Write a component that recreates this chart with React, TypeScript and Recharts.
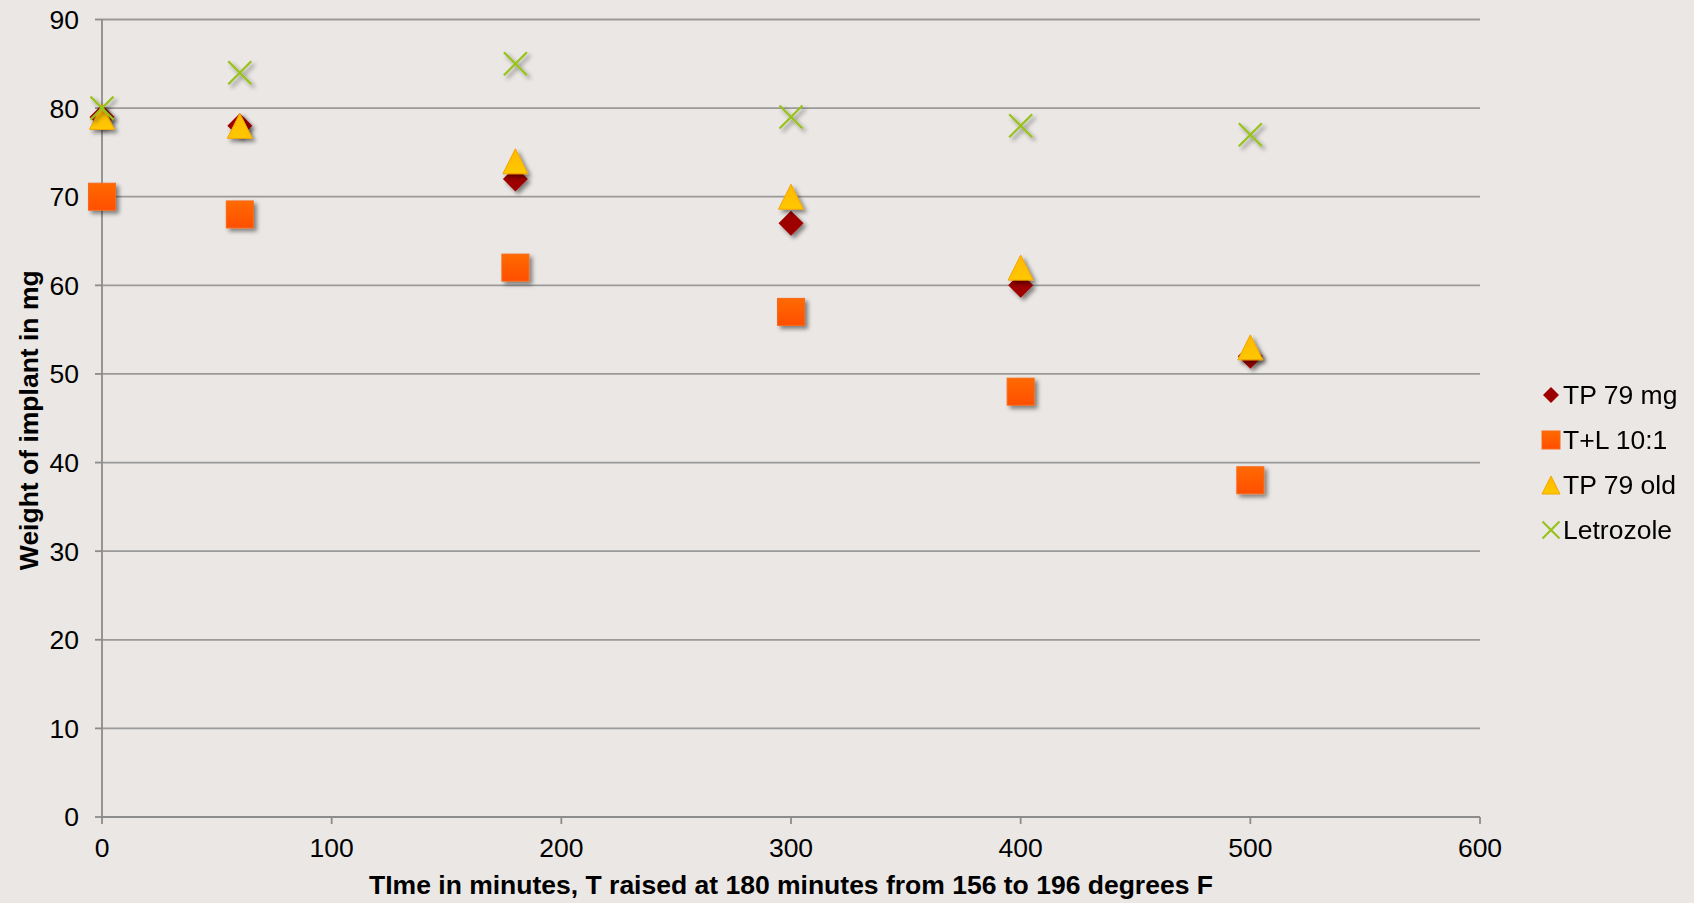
import React from 'react';
import { ScatterChart, Scatter, XAxis, YAxis, CartesianGrid, Legend, Label } from 'recharts';

const times = [0, 60, 180, 300, 400, 500];
const tp79mg = [79, 78, 72, 67, 60, 52];
const tl101 = [70, 68, 62, 57, 48, 38];
const tp79old = [79, 78, 74, 70, 62, 53];
const letrozole = [80, 84, 85, 79, 78, 77];
const xTicks = [0, 100, 200, 300, 400, 500, 600];
const yTicks = [0, 10, 20, 30, 40, 50, 60, 70, 80, 90];
const seriesNames = ['TP 79 mg', 'T+L 10:1', 'TP 79 old', 'Letrozole'];

const toPts = (vals: number[]) => times.map((t, i) => ({ x: t, y: vals[i] }));

const FONT = '"Liberation Sans", Arial, sans-serif';
const BG = '#EAE7E4';
const DIAMOND = '#9E0000';
const XGREEN = '#97C21A';

const Diamond = ({ cx, cy, s = 12.5, shadow = true }: any) => (
  <polygon
    points={`${cx},${cy - s} ${cx + s},${cy} ${cx},${cy + s} ${cx - s},${cy}`}
    fill={DIAMOND}
    filter={shadow ? 'url(#ds)' : undefined}
  />
);
const Square = ({ cx, cy, s = 13.5, shadow = true }: any) => (
  <rect
    x={cx - s}
    y={cy - s}
    width={2 * s}
    height={2 * s}
    fill="url(#sqg)"
    stroke="#F76A1A"
    strokeWidth={1}
    filter={shadow ? 'url(#ds)' : undefined}
  />
);
const Triangle = ({ cx, cy, s = 12.5, shadow = true }: any) => (
  <polygon
    points={`${cx},${cy - s} ${cx + s},${cy + s} ${cx - s},${cy + s}`}
    fill="url(#trg)"
    stroke="#F2A500"
    strokeWidth={1}
    filter={shadow ? 'url(#ds)' : undefined}
  />
);
const Cross = ({ cx, cy, s = 11.5, shadow = true }: any) => (
  <g filter={shadow ? 'url(#ds)' : undefined}>
    <line x1={cx - s} y1={cy - s} x2={cx + s} y2={cy + s} stroke={XGREEN} strokeWidth={2.2} />
    <line x1={cx - s} y1={cy + s} x2={cx + s} y2={cy - s} stroke={XGREEN} strokeWidth={2.2} />
  </g>
);

const renderLegend = () => {
  const rows = [
    (y: number) => <Diamond cx={11} cy={y} s={8} shadow={false} />,
    (y: number) => <Square cx={11} cy={y} s={9} shadow={false} />,
    (y: number) => <Triangle cx={11} cy={y} s={9} shadow={false} />,
    (y: number) => <Cross cx={11} cy={y} s={8.5} shadow={false} />,
  ];
  return (
    <svg width={160} height={180} style={{ overflow: 'visible', display: 'block' }}>
      {seriesNames.map((n, i) => {
        const y = 23 + i * 45;
        return (
          <g key={n}>
            {rows[i](y)}
            <text x={23} y={y} dominantBaseline="central" fontFamily={FONT} fontSize={26.5} fill="#000">
              {n}
            </text>
          </g>
        );
      })}
    </svg>
  );
};

export default function App() {
  return (
    <div style={{ position: 'fixed', left: 0, top: 0, width: 1694, height: 903, background: BG }}>
      <ScatterChart
        width={1694}
        height={903}
        margin={{ top: 19.5, right: 54, bottom: 0, left: 0 }}
        style={{ fontFamily: FONT }}
      >
        <defs>
          <filter id="ds" x="-50%" y="-50%" width="200%" height="200%">
            <feDropShadow dx="3" dy="3" stdDeviation="2" floodColor="#000" floodOpacity="0.45" />
          </filter>
          <linearGradient id="sqg" x1="0" y1="0" x2="0" y2="1">
            <stop offset="0" stopColor="#FF6A00" />
            <stop offset="1" stopColor="#FF4E00" />
          </linearGradient>
          <linearGradient id="trg" x1="0" y1="0" x2="0" y2="1">
            <stop offset="0" stopColor="#FFB800" />
            <stop offset="1" stopColor="#FFC800" />
          </linearGradient>
        </defs>
        <CartesianGrid vertical={false} stroke="#9A9A9A" strokeWidth={1.8} />
        <XAxis
          type="number"
          dataKey="x"
          domain={[0, 600]}
          ticks={xTicks}
          interval={0}
          height={86}
          tickSize={7}
          tickMargin={14}
          axisLine={{ stroke: '#8C8C8C', strokeWidth: 1.8 }}
          tickLine={{ stroke: '#8C8C8C', strokeWidth: 1.8 }}
          tick={{ fill: '#000', fontSize: 26.5, fontFamily: FONT }}
        >
          <Label
            content={(props: any) => {
              const vb = props.viewBox || { x: 102, y: 817, width: 1378 };
              return (
                <text
                  x={vb.x + vb.width / 2}
                  y={vb.y + 77}
                  textAnchor="middle"
                  fontFamily={FONT}
                  fontWeight="bold"
                  fontSize={26.5}
                  fill="#000"
                >
                  TIme in minutes, T raised at 180 minutes from 156 to 196 degrees F
                </text>
              );
            }}
          />
        </XAxis>
        <YAxis
          type="number"
          dataKey="y"
          domain={[0, 90]}
          ticks={yTicks}
          interval={0}
          width={102}
          tickSize={7}
          tickMargin={16}
          axisLine={{ stroke: '#8C8C8C', strokeWidth: 1.8 }}
          tickLine={{ stroke: '#8C8C8C', strokeWidth: 1.8 }}
          tick={{ fill: '#000', fontSize: 26.5, fontFamily: FONT }}
        >
          <Label
            content={(props: any) => {
              const vb = props.viewBox || { x: 0, y: 19.5, width: 102, height: 797.5 };
              const cy = vb.y + vb.height / 2 + 2;
              return (
                <text
                  x={29}
                  y={cy}
                  transform={`rotate(-90, 29, ${cy})`}
                  textAnchor="middle"
                  dominantBaseline="central"
                  fontFamily={FONT}
                  fontWeight="bold"
                  fontSize={26.5}
                  fill="#000"
                >
                  Weight of implant in mg
                </text>
              );
            }}
          />
        </YAxis>
        <Legend
          layout="vertical"
          align="right"
          verticalAlign="middle"
          width={160}
          height={180}
          content={renderLegend}
          wrapperStyle={{ position: 'absolute', left: 1540, top: 372, width: 160, height: 180 }}
        />
        <Scatter name={seriesNames[0]} data={toPts(tp79mg)} shape={(p: any) => <Diamond cx={p.cx} cy={p.cy} />} isAnimationActive={false} />
        <Scatter name={seriesNames[1]} data={toPts(tl101)} shape={(p: any) => <Square cx={p.cx} cy={p.cy} />} isAnimationActive={false} />
        <Scatter name={seriesNames[2]} data={toPts(tp79old)} shape={(p: any) => <Triangle cx={p.cx} cy={p.cy} />} isAnimationActive={false} />
        <Scatter name={seriesNames[3]} data={toPts(letrozole)} shape={(p: any) => <Cross cx={p.cx} cy={p.cy} />} isAnimationActive={false} />
      </ScatterChart>
    </div>
  );
}
